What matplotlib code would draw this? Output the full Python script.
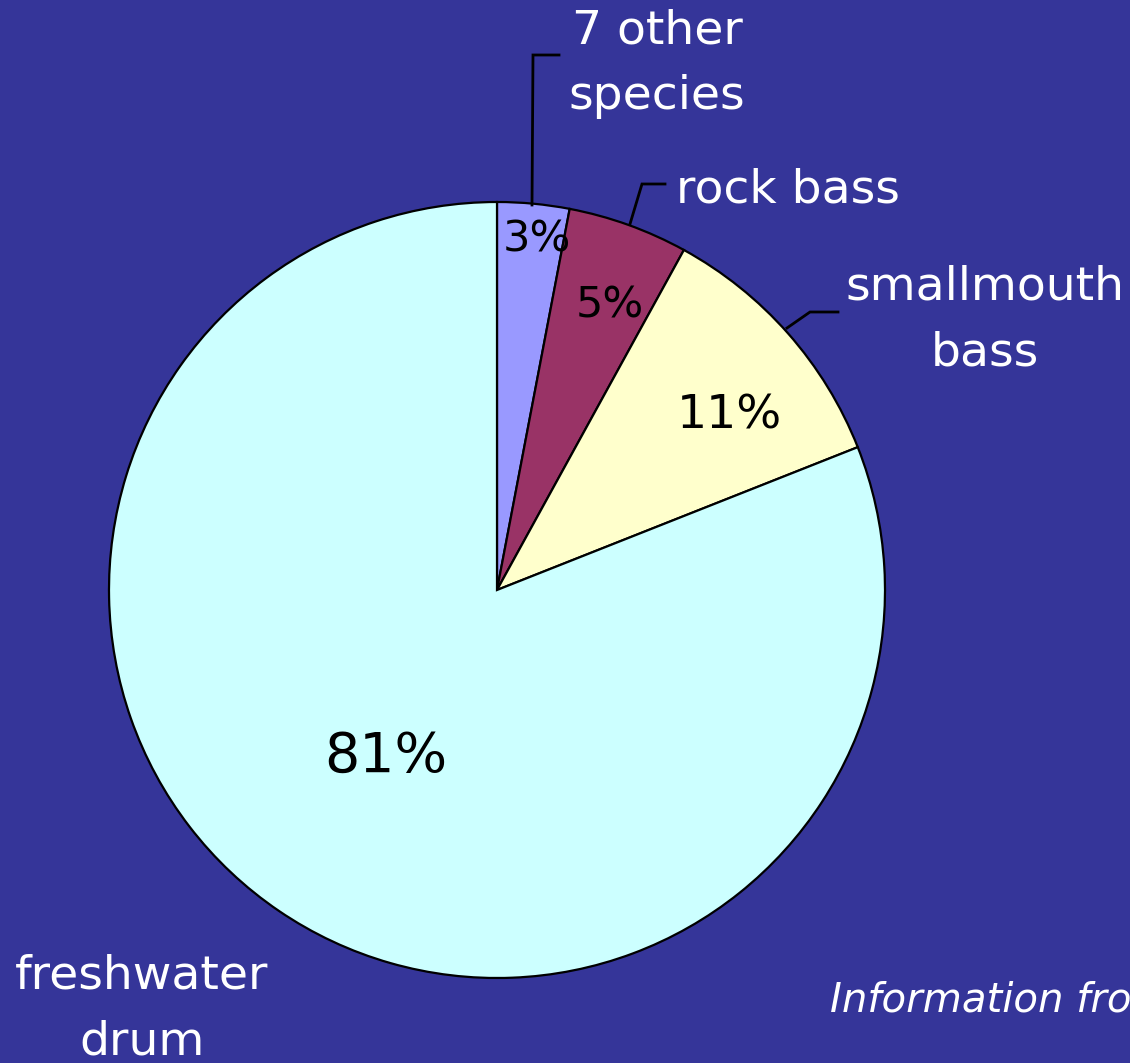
import matplotlib
matplotlib.use("Agg")
import matplotlib.pyplot as plt

# Data
categories = ["7 other species", "rock bass", "smallmouth bass", "freshwater drum"]
values = [3, 5, 11, 81]
display_labels = ["7 other\nspecies", "rock bass", "smallmouth\nbass", "freshwater\ndrum"]
colors = ["#9999FF", "#993366", "#FFFFCC", "#CCFFFF"]
footnote = "Information from"

W, H = 1130, 1063
BG = "#353599"

fig = plt.figure(figsize=(W / 100, H / 100), dpi=100, facecolor=BG)
ax = fig.add_axes([0, 0, 1, 1])
ax.set_facecolor(BG)

cx, cy, r = 497, H - 590, 388
wedges, texts, autotexts = ax.pie(
    values, colors=colors, startangle=90, counterclock=False,
    center=(cx, cy), radius=r, frame=True,
    autopct=lambda p: f"{p:.0f}%",
    wedgeprops=dict(edgecolor="black", linewidth=1.6),
    textprops=dict(color="black", fontsize=31, family="DejaVu Sans"),
)
ax.set_xlim(0, W)
ax.set_ylim(0, H)
ax.set_aspect("equal")
ax.axis("off")

pct_pos = [(537, 240), (610, 306), (729, 416), (386, 757)]
pct_size = [31, 31, 34, 40]
for t, (x, y), s in zip(autotexts, pct_pos, pct_size):
    t.set_position((x, H - y))
    t.set_ha("center")
    t.set_va("center")
    t.set_fontsize(s)

label_pos = [(657, 64), (788, 190), (985, 320), (142, 1009)]
for lab, (x, y) in zip(display_labels, label_pos):
    ax.text(x, H - y, lab, color="white", fontsize=34, ha="center", va="center",
            linespacing=1.58, family="DejaVu Sans")

# leader lines
leaders = [
    [(532, 205), (533, 55), (559, 55)],
    [(630, 224), (642, 184), (665, 184)],
    [(787, 328), (810, 312), (838, 312)],
]
for pts in leaders:
    xs = [p[0] for p in pts]
    ys = [H - p[1] for p in pts]
    ax.plot(xs, ys, color="black", lw=2, solid_joinstyle="miter")

ax.text(830, H - 1000, footnote, color="white", fontsize=29, style="italic",
        ha="left", va="center", family="DejaVu Sans")

fig.savefig("out.png", dpi=100, facecolor=BG)
